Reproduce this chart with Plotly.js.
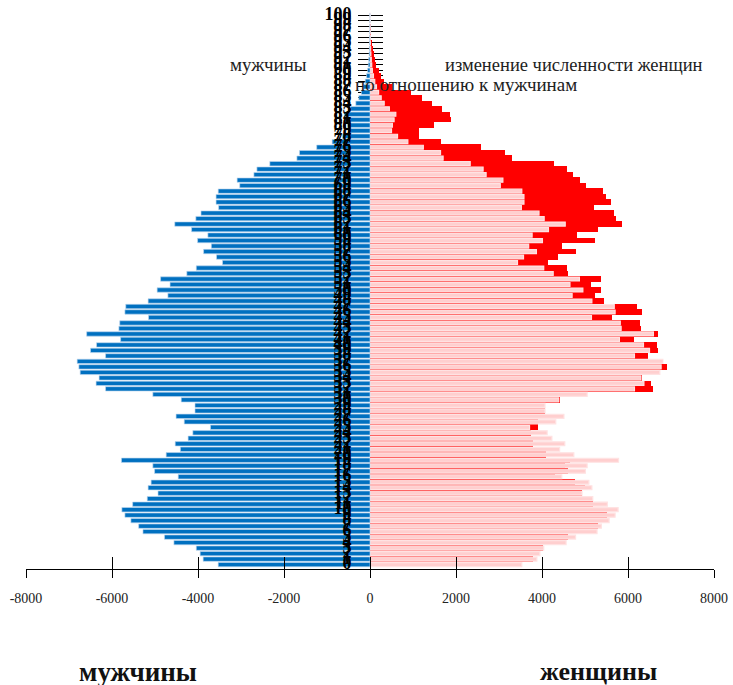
<!DOCTYPE html>
<html>
<head>
<meta charset="utf-8">
<script src="https://cdn.plot.ly/plotly-3.0.1.min.js"></script>
<style>html,body{margin:0;padding:0;background:#fff;}#chart{width:733px;height:685px;}</style>
</head>
<body>
<div id="chart"></div>
<script>
// Ages 0..100
const ages = [0,1,2,3,4,5,6,7,8,9,10,11,12,13,14,15,16,17,18,19,20,21,22,23,24,25,26,27,28,29,30,31,32,33,34,35,36,37,38,39,40,41,42,43,44,45,46,47,48,49,50,51,52,53,54,55,56,57,58,59,60,61,62,63,64,65,66,67,68,69,70,71,72,73,74,75,76,77,78,79,80,81,82,83,84,85,86,87,88,89,90,91,92,93,94,95,96,97,98,99,100];

// Men by age (persons)
const men = [3530,3880,3950,4040,4560,4780,5280,5380,5560,5700,
             5770,5520,5180,4930,5160,5090,4460,5010,5050,5780,
             4740,4410,4530,4230,4120,3710,4320,4510,4070,4070,
             4390,5050,6150,6370,6300,6740,6770,6810,6150,6500,
             6360,5800,6590,5840,5820,5150,5700,5680,5160,4700,
             4950,4650,4870,4260,4040,3430,3570,3870,3690,4010,
             3770,4150,4540,4050,3930,3520,3580,3580,3530,3030,
             3090,2700,2630,2330,1700,1640,1240,880,640,500,
             520,560,600,450,330,260,200,150,110,80,
             55,40,30,20,14,10,7,5,3,2,
             2];

// Women by age (persons)
const women = [3440,3790,3900,4020,4220,4610,4920,5310,5350,5520,
               5500,5190,5150,4920,5000,4760,4300,4610,4530,4650,
               4100,4100,3790,3790,3750,3910,3910,4140,4060,4060,
               4410,5050,6590,6540,6320,6710,6900,6820,6470,6690,
               6670,6150,6690,6300,6280,5620,6320,6220,5450,5230,
               5380,5140,5370,4610,4590,4140,4370,4780,4470,5240,
               4820,5310,5850,5710,5680,5210,5600,5480,5420,5030,
               4880,4720,4570,4270,3310,3150,2580,1650,1140,1150,
               1480,1880,1870,1670,1450,1220,960,520,330,260,
               200,150,120,90,60,45,30,20,12,8,
               6];

const xTickVals = [-8000,-6000,-4000,-2000,0,2000,4000,6000,8000];
const xTickText = ['-8000','-6000','-4000','-2000','0','2000','4000','6000','8000'];

const LABEL_X = -430;
const SERIF = 'Liberation Serif, DejaVu Serif, serif';

const traces = [
  { // women (red, full thickness) -> shows the excess over men
    type:'bar', orientation:'h', y: ages, x: women, width: 1,
    marker:{color:'#FF0000', line:{width:0}}, hoverinfo:'skip', showlegend:false
  },
  { // men mirrored on the women side (pink)
    type:'bar', orientation:'h', y: ages, x: men, width: 0.72,
    marker:{color:'#FFCFCF', line:{color:'#FFE2E2', width:1.2}}, hoverinfo:'skip', showlegend:false
  },
  { // men (blue)
    type:'bar', orientation:'h', y: ages, x: men.map(v => -v), width: 0.8,
    marker:{color:'#0070C0', line:{color:'rgba(190,215,240,0.8)', width:0.8}}, hoverinfo:'skip', showlegend:false
  },
  { // age labels
    type:'scatter', mode:'text', xaxis:'x2', yaxis:'y2',
    x: ages.map(() => LABEL_X), y: ages, text: ages.map(String),
    textposition:'middle left',
    textfont:{family:SERIF, size:18, color:'#000', weight:'bold'},
    hoverinfo:'skip', showlegend:false, cliponaxis:false
  }
];

const layout = {
  width:733, height:685,
  margin:{l:26, r:19, t:11, b:116},
  paper_bgcolor:'#fff', plot_bgcolor:'#fff',
  barmode:'overlay', bargap:0,
  showlegend:false,
  xaxis:{
    range:[-8000,8000], tickvals:xTickVals, ticktext:xTickText,
    ticks:'outside', ticklen:8, tickwidth:1, tickcolor:'#000',
    showline:true, linecolor:'#000', linewidth:1,
    showgrid:false, zeroline:false,
    ticklabelstandoff:8,
    tickfont:{family:SERIF, size:14, color:'#222'},
    fixedrange:true
  },
  xaxis2:{
    overlaying:'x', anchor:'y2', side:'bottom',
    range:[-8000,8000], tickvals:xTickVals, showticklabels:false,
    ticks:'inside', ticklen:12, tickwidth:1, tickcolor:'#000',
    showline:false, showgrid:false, zeroline:false, fixedrange:true
  },
  yaxis:{
    range:[-0.8,100.8], anchor:'free', position:0.5,
    tickvals:ages, showticklabels:false,
    ticks:'outside', ticklen:12, tickwidth:1, tickcolor:'#000',
    showline:false, showgrid:false, zeroline:false, layer:'below traces', fixedrange:true
  },
  yaxis2:{
    overlaying:'y', anchor:'free', position:0.5, side:'right',
    range:[-0.8,100.8], tickvals:ages, showticklabels:false,
    ticks:'outside', ticklen:12, tickwidth:1, tickcolor:'#000',
    showline:false, showgrid:false, zeroline:false, layer:'below traces', fixedrange:true
  },
  annotations:[
    {xref:'paper', yref:'paper', x:(268-26)/688, y:(569.5-65)/558, xanchor:'center', yanchor:'middle',
     text:'мужчины', showarrow:false, font:{family:SERIF, size:19, color:'#222'}},
    {xref:'paper', yref:'paper', x:(574-26)/688, y:(569.5-65)/558, xanchor:'center', yanchor:'middle',
     text:'изменение численности женщин', showarrow:false, font:{family:SERIF, size:18.5, color:'#222'}},
    {xref:'paper', yref:'paper', x:(466-26)/688, y:(569.5-85)/558, xanchor:'center', yanchor:'middle',
     text:'по отношению к мужчинам', showarrow:false, font:{family:SERIF, size:19, color:'#222'}},
    {xref:'paper', yref:'paper', x:(138-26)/688, y:(569.5-672)/558, xanchor:'center', yanchor:'middle',
     text:'мужчины', showarrow:false, font:{family:SERIF, size:27, color:'#111', weight:'bold'}},
    {xref:'paper', yref:'paper', x:(598-26)/688, y:(569.5-672)/558, xanchor:'center', yanchor:'middle',
     text:'женщины', showarrow:false, font:{family:SERIF, size:26, color:'#111', weight:'bold'}}
  ]
};

Plotly.newPlot('chart', traces, layout, {displayModeBar:false, staticPlot:true});
</script>
</body>
</html>
